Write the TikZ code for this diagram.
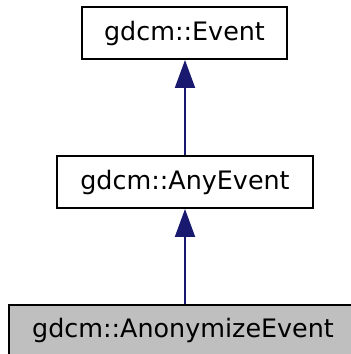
\documentclass[tikz,border=0pt]{standalone}
\usepackage{fontspec}
\setmainfont{DejaVu Sans}
\usetikzlibrary{arrows.meta}
\definecolor{edgeblue}{HTML}{191970}
\definecolor{boxgray}{HTML}{BFBFBF}
\begin{document}
\begin{tikzpicture}[x=1pt,y=-1pt,
  cls/.style={draw=black,line width=1.9pt,inner sep=0pt,font=\fontsize{25.4}{30}\selectfont},
  inh/.style={draw=edgeblue,line width=1.9pt,-{Triangle[length=28pt,width=20pt]}}]
\useasboundingbox (0,0) rectangle (351,354);
\node[cls,minimum width=205pt,minimum height=52pt] (ev) at (184.5,33) {gdcm::Event};
\node[cls,minimum width=256pt,minimum height=52pt] (any) at (185,182) {gdcm::AnyEvent};
\node[cls,fill=boxgray,minimum width=348pt,minimum height=50pt] (anon) at (183,330) {gdcm::AnonymizeEvent};
\draw[inh] (anon.north -| any.south) -- (any.south);
\draw[inh] (any.north) -- (any.north |- ev.south);
\end{tikzpicture}
\end{document}
